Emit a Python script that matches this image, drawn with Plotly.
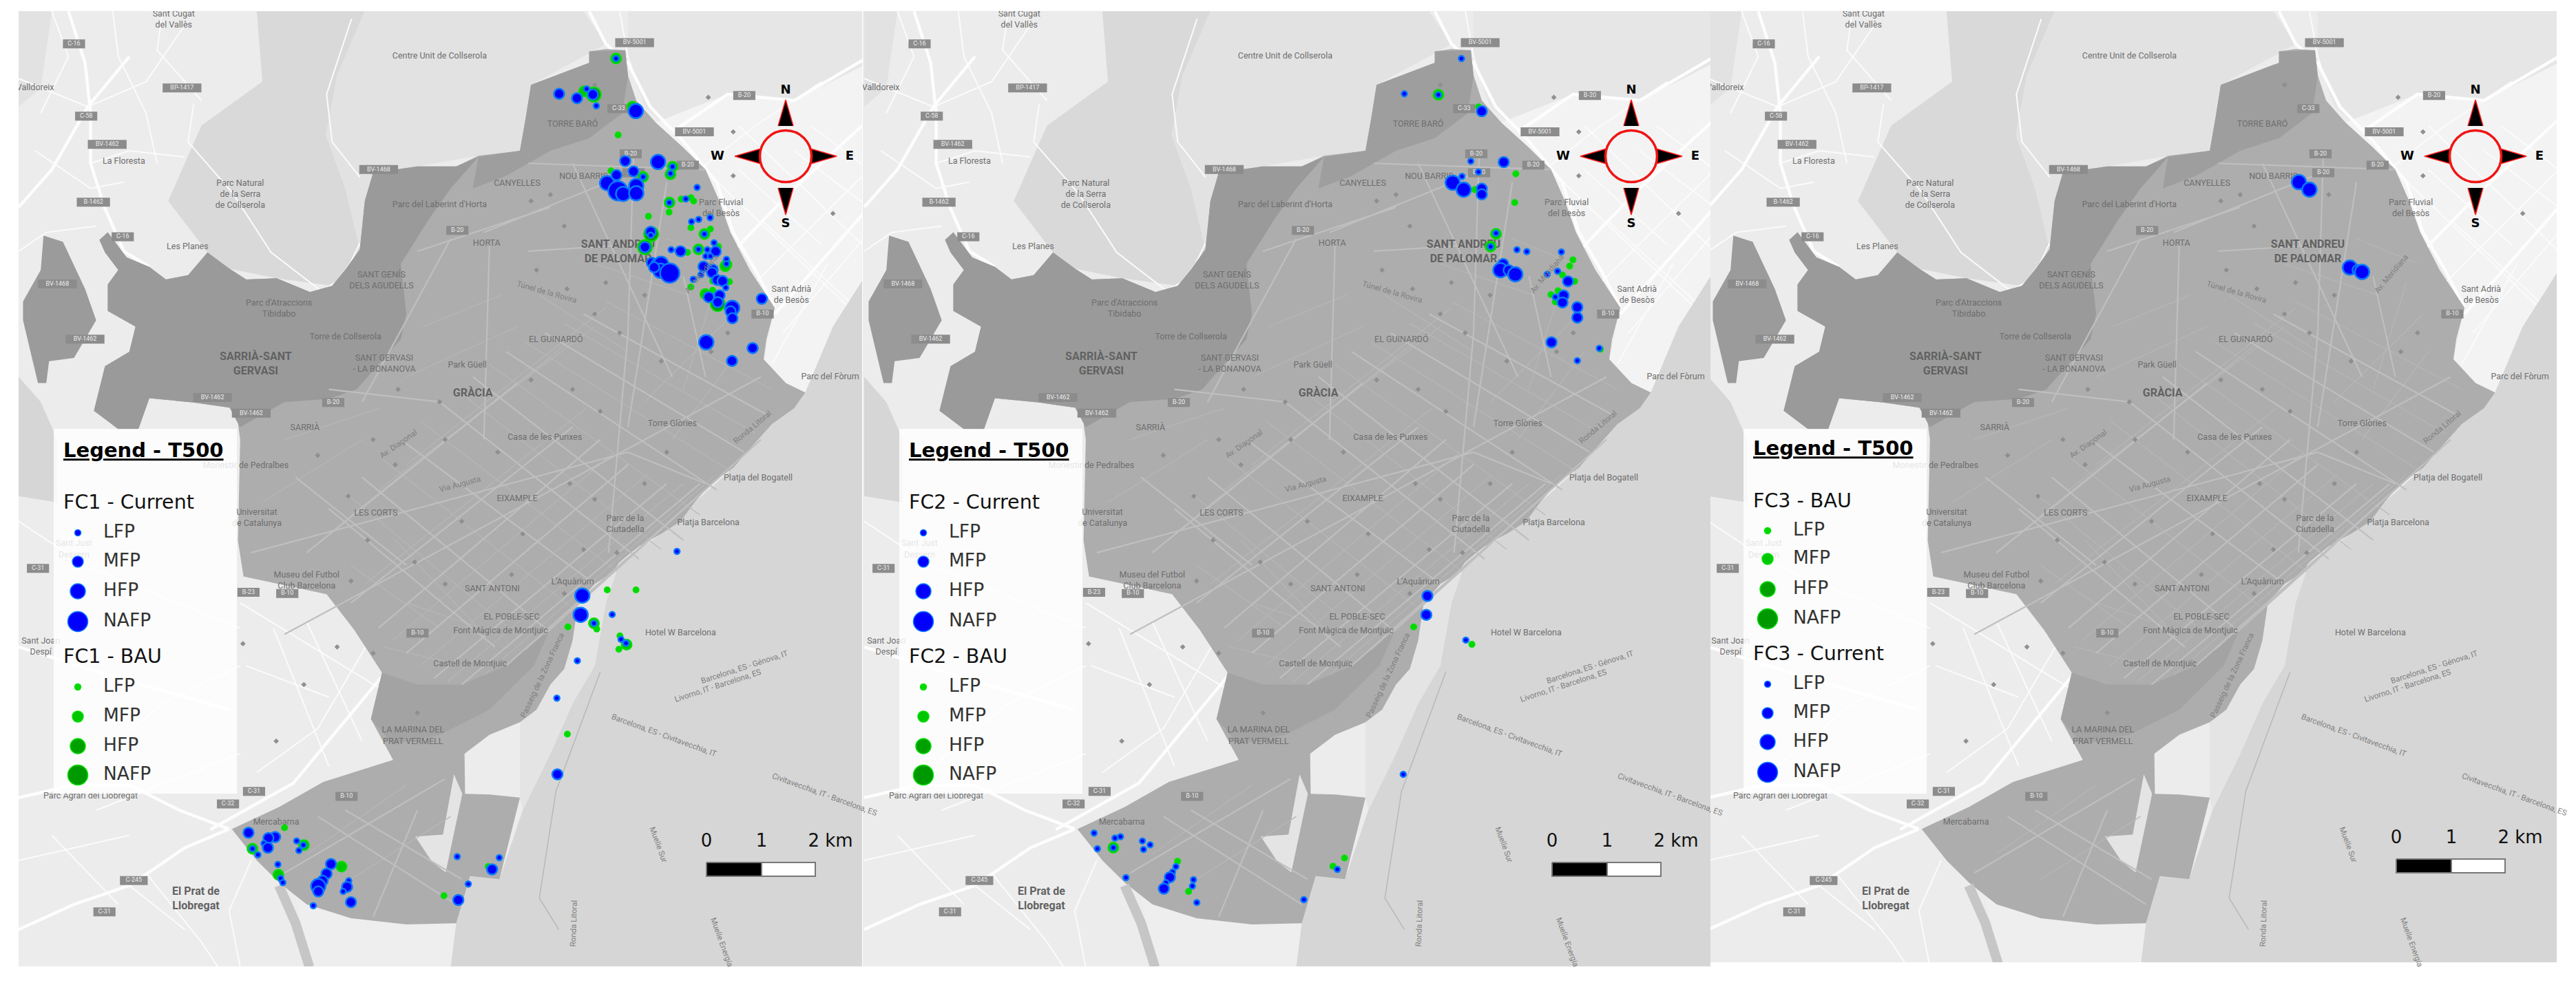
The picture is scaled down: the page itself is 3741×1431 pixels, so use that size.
import plotly.graph_objects as go

W = 3741
H = 1431
# the page keeps an 8 px body margin, so the figure sits 8 px in from the corner
PAGE = 8
FIG_W = W - 2 * PAGE
FIG_H = H - 2 * PAGE

# base map traced in map units, same for all three panels
city = [(1030,82),(1060,78),(1095,80),(1100,120),(1115,160),(1150,195),(1200,235),(1240,270),(1265,320),(1285,370),(1320,430),(1365,490),(1350,540),(1345,572),(1385,610),(1420,625),(1400,650),(1360,675),(1325,710),(1290,745),(1250,770),(1220,800),(1195,830),(1160,850),(1120,870),(1085,895),(1072,912),(1040,930),(1010,960),(1000,1020),(985,1065),(960,1090),(935,1130),(905,1150),(850,1170),(805,1200),(806,1264),(850,1265),(905,1270),(868,1400),(815,1395),(790,1470),(700,1472),(600,1462),(520,1440),(470,1405),(430,1370),(385,1320),(470,1285),(550,1245),(676,1210),(636,1145),(656,1071),(606,1003),(556,946),(406,918),(396,861),(400,700),(396,674),(381,649),(316,641),(236,634),(216,684),(181,684),(136,654),(156,583),(200,560),(211,520),(161,495),(161,453),(180,430),(156,402),(146,382),(161,370),(195,410),(236,425),(266,445),(306,438),(341,402),(381,428),(411,445),(466,443),(526,465),(566,455),(591,428),(616,397),(625,320),(640,275),(720,265),(790,265),(830,248),(905,240),(915,190),(925,135),(1030,100)]
finger = [(45,375),(40,430),(8,480),(8,510),(35,610),(50,610),(55,575),(100,570),(140,510),(120,460),(80,385)]
hills_tibidabo = [(146,382),(161,370),(195,410),(236,425),(266,445),(306,438),(341,402),(381,428),(411,445),(466,443),(526,465),(566,455),(591,428),(616,397),(625,320),(640,275),(720,265),(790,265),(830,250),(780,300),(740,350),(690,420),(700,500),(690,540),(610,620),(560,635),(480,640),(400,680),(381,649),(316,641),(236,634),(216,684),(181,684),(136,654),(156,583),(200,560),(211,520),(161,495),(161,453),(180,430),(156,402)]
hills_baro = [(830,250),(905,240),(915,190),(925,135),(1030,100),(1030,82),(1095,80),(1100,120),(1090,180),(1030,220),(960,240),(880,280),(820,300)]
hills_montjuic = [(656,1071),(636,1145),(676,1185),(760,1170),(850,1130),(930,1060),(960,1000),(880,1060),(800,1090),(720,1090)]
collserola_west = [(330,200),(440,130),(430,18),(625,18),(575,120),(555,215),(590,300),(616,397),(566,455),(466,443),(381,428),(341,402),(270,320)]
collserola_east = [(625,18),(1020,18),(1060,70),(1030,85),(925,135),(905,240),(830,248),(720,265),(640,275),(616,397),(590,300),(555,215),(575,120)]
sant_cugat_hill = [(0,18),(60,18),(40,140),(0,170)]
west_hill = [(0,600),(40,640),(70,700),(70,800),(0,790)]
sea = [(1535,430),(1470,520),(1420,625),(1360,675),(1290,745),(1220,800),(1160,850),(1085,895),(1060,960),(1040,1060),(1000,1120),(960,1200),(910,1290),(868,1400),(815,1395),(790,1470),(780,1540),(1535,1540)]
port = [(1010,960),(1040,930),(1085,895),(1060,960),(1040,1060),(1000,1120),(960,1200),(910,1290),(905,1270),(905,1150),(935,1130),(960,1090),(985,1065),(1000,1020)]
dock_notch = [(786,1233),(801,1264),(771,1389),(746,1372),(716,1332),(766,1329)]
besos_north = [(1100,18),(1535,18),(1535,100),(1400,160),(1280,150),(1180,210),(1130,170),(1100,100)]
besos_land = [(1150,195),(1280,150),(1400,160),(1535,100),(1535,430),(1470,520),(1420,625),(1385,610),(1345,572),(1365,490),(1285,370),(1240,270)]
prat_south = [(790,1470),(780,1540),(530,1540),(500,1430),(600,1462),(700,1472)]

white_roads = [
    [(90,18),(120,100),(130,180),(130,260),(155,330),(190,400),(236,425)],
    [(200,90),(125,170),(60,270),(0,330)],
    [(1030,18),(1060,70),(1100,100),(1140,170),(1200,225),(1260,290),(1290,370),(1330,430),(1365,490)],
    [(1180,210),(1280,150),(1400,160),(1535,90)],
    [(1290,400),(1400,300),(1535,190)],
    [(1365,500),(1535,330)],
    [(346,1321),(496,1247),(656,1077)],
    [(380,1320),(290,1290),(200,1250),(100,1250),(0,1270)],
    [(380,1320),(300,1350),(200,1410),(100,1440),(0,1480)],
    [(0,1030),(180,1080),(380,1130)],
]
thin_roads = [
    [(260,18),(250,80),(330,160)],
    [(0,125),(70,150),(125,170),(230,130),(300,40)],
    [(130,260),(200,240),(300,250)],
    [(601,30),(556,150),(566,226),(616,282)],
    [(316,166),(306,226),(386,307),(456,402),(546,463),(586,443),(616,387)],
    [(60,18),(90,90),(40,180)],
    [(170,18),(180,90),(230,180),(250,260)],
    [(30,240),(130,300),(190,290)],
    [(0,400),(50,370),(140,360)],
    [(1085,18),(1100,90),(1115,130)],
    [(1200,290),(1330,200),(1450,130)],
    [(1330,450),(1535,270)],
    [(1250,280),(1535,520)],
    [(1300,200),(1535,400)],
    [(1360,580),(1460,420)],
    [(1340,350),(1500,480)],
    [(1400,240),(1535,330)],
    [(1430,200),(1535,270)],
    [(1300,270),(1450,390)],
    [(1380,530),(1535,370)],
    [(430,1230),(540,1160),(640,1010)],
    [(0,830),(120,900),(400,1000)],
    [(70,1260),(260,1120),(400,1060)],
    [(140,1290),(400,1200)],
    [(410,1060),(560,1110)],
    [(400,960),(660,1100)],
    [(460,1000),(560,1220)],
    [(520,990),(620,1180)],
    [(230,1390),(330,1500),(360,1540)],
    [(420,1370),(380,1450),(400,1540)],
    [(200,1410),(300,1480)],
    [(60,1330),(180,1440)],
    [(0,1370),(200,1330)],
]
city_streets = [
    [(600,960),(1000,680)],[(650,1000),(1050,700)],[(700,1040),(1100,740)],[(750,1080),(1170,770)],
    [(800,1090),(1230,770)],[(880,1060),(1290,740)],[(950,1010),(1340,700)],[(520,880),(900,610)],
    [(760,640),(1120,890)],[(820,600),(1200,860)],[(880,560),(1260,780)],[(950,530),(1310,720)],
    [(1020,500),(1350,660)],[(690,700),(1040,930)],[(620,760),(950,1000)],[(560,810),(860,1030)],
    [(1065,880),(1100,530),(1110,250)],[(1100,680),(1170,290)],[(840,370),(1120,270)],
    [(780,380),(620,640)],[(850,390),(840,700)],[(920,260),(1240,270)],[(1240,600),(1200,440)],
    [(720,400),(960,330)],[(420,880),(1100,720),(1240,770)],[(480,1010),(1340,600)],
    [(500,760),(700,900)],[(560,620),(760,640)],[(920,400),(1100,390)],[(1000,260),(1180,600)],
    [(480,1390),(770,1240)],[(540,1300),(790,1440)],[(640,1460),(720,1290)],[(590,1290),(800,1400)],
]
thin_streets = [
    [(625,930),(1025,650)],[(675,1020),(1075,720)],[(725,1060),(1135,755)],[(775,1085),(1200,770)],
    [(840,1075),(1260,755)],[(915,1035),(1315,720)],[(560,850),(960,570)],[(600,820),(1000,540)],
    [(650,780),(1040,520)],[(700,740),(1060,490)],
    [(790,620),(1160,875)],[(850,580),(1230,820)],[(915,545),(1285,750)],[(985,515),(1330,690)],
    [(725,670),(1080,910)],[(655,730),(995,965)],[(590,785),(905,1015)],[(1060,480),(1360,620)],
    [(760,1000),(600,900)],[(830,1000),(680,860)],[(1180,700),(1300,560)],[(1260,450),(1200,620)],
    [(1130,640),(1290,500)],[(1170,380),(1280,420)],[(1040,420),(1210,470)],[(940,470),(1100,560)],
    [(730,520),(870,470)],[(700,600),(900,520)],[(480,700),(650,650)],[(440,800),(620,700)],
    [(520,1360),(700,1250)],[(600,1400),(780,1300)],[(660,1030),(800,1060)],[(700,960),(870,1010)],
]
river = [(470,1410),(500,1470),(525,1540)]
breakwater = [(1050,1070),(970,1260),(940,1430),(975,1480)]
poi = [(925,320),(960,310),(985,360),(1120,310),(1040,135),(1245,155),(1290,210),(1290,280),(1470,340),(935,430),(990,460),(1060,450),(1130,470),(1040,500),(1085,530),(1160,575),(1250,560),(1280,530),(1050,655),(1000,620),(925,605),(760,640),(685,620),(640,700),(540,725),(595,790),(680,740),(770,700),(865,720),(995,770),(1040,795),(1130,770),(1170,720),(1080,880),(1020,875),(910,850),(800,830),(715,895),(630,860),(600,925),(770,930),(890,915),(985,945),(575,1030),(640,1040),(720,1135),(515,1090),(465,1180),(405,1025)]

big_labels = [
    ("SANT ANDREU<br>DE PALOMAR",1082,402),("SARRIÀ-SANT<br>GERVASI",428,580),("GRÀCIA",820,627),
    ("El Prat de<br>Llobregat",320,1432),
]
small_labels = [
    ("Sant Cugat<br>del Vallès",280,32),("Centre Unit de Collserola",760,90),("Valldoreix",30,140),
    ("La Floresta",190,257),("Les Planes",305,393),("Parc Natural<br>de la Serra<br>de Collserola",400,310),
    ("TORRE BARÓ",1000,198),("NOU BARRIS",1020,282),("CANYELLES",900,293),("Parc del Laberint d'Horta",760,327),
    ("HORTA",845,388),("SANT GENÍS<br>DELS AGUDELLS",655,447),("Parc d'Atraccions<br>Tibidabo",470,492),
    ("Torre de Collserola",590,537),("SANT GERVASI<br>- LA BONANOVA",660,580),("Park Güell",810,582),
    ("EL GUINARDÓ",970,541),("SARRIÀ",517,682),("Torre Glòries",1180,675),("Casa de les Punxes",950,697),
    ("EIXAMPLE",900,795),("LES CORTS",645,818),("Parc de la<br>Ciutadella",1095,835),("Platja Barcelona",1245,833),
    ("Platja del Bogatell",1335,762),("Sant Adrià<br>de Besòs",1395,470),("Parc del Fòrum",1465,600),
    ("Parc Fluvial<br>del Besòs",1268,332),("SANT ANTONI",855,938),("L'Aquàrium",1000,927),
    ("EL POBLE-SEC",890,983),("Font Màgica de Montjuïc",870,1005),("Castell de Montjuïc",815,1057),
    ("LA MARINA DEL<br>PRAT VERMELL",712,1172),("Museu del Futbol<br>Club Barcelona",520,925),
    ("Universitat<br>de Catalunya",430,825),("Monestir de Pedralbes",410,742),("Hotel W Barcelona",1195,1008),
    ("Mercabarna",465,1310),("Sant Joan<br>Despí",40,1030),("Parc Agrari del Llobregat",130,1268),
    ("Sant Just<br>Desvern",100,875),
]
rotated_labels = [
    ("Barcelona, ES - Génova, IT",1310,1062,-18),("Livorno, IT - Barcelona, ES",1262,1092,-18),
    ("Barcelona, ES - Civitavecchia, IT",1165,1170,20),("Civitavecchia, IT - Barcelona, ES",1455,1265,20),
    ("Ronda Litoral",1002,1470,-88),("Muelle Sur",1155,1345,70),("Muelle Energía",1270,1500,70),
    ("Túnel de la Rovira",953,465,16),("Av. Diagonal",685,707,-35),("Via Augusta",797,770,-15),
    ("Av. Meridiana",1232,436,-50),("Ronda Litoral",1325,680,-40),("Passeig de la Zona Franca",945,1075,-65),
]
shields = [
    ("C-16",100,70),("BP-1417",295,140),("C-58",122,185),("BV-1462",160,230),("B-1462",135,322),
    ("C-16",188,377),("BV-1468",650,270),("BV-1468",70,452),("BV-1462",120,540),("C-33",1083,173),
    ("BV-5001",1112,68),("B-20",1105,245),("B-20",1110,275),("BV-5001",1220,210),("B-20",1310,152),
    ("B-20",1208,263),("B-10",1343,500),("B-20",792,367),("B-20",568,641),("BV-1462",350,633),
    ("BV-1462",420,658),("B-10",720,1008),("B-23",415,943),("B-10",485,945),("C-31",425,1260),
    ("C-32",378,1280),("B-10",592,1268),("C-31",35,905),("C-245",208,1402),("C-31",155,1452),
]

# values: x, y, class
p1_current_north = [(344,135,"L"),(96,289,"M"),(174,308,"M"),(216,268,"L"),(243,292,"M"),(258,341,"L"),(430,364,"H"),(384,582,"M"),(527,586,"H"),(590,607,"L"),(581,636,"L"),(420,627,"M"),(346,643,"M"),(462,651,"L"),(305,678,"H"),(352,712,"N"),(375,725,"H"),(432,690,"H"),(432,722,"H"),(697,697,"L"),(576,763,"L"),(648,747,"L"),(704,836,"L"),(754,829,"L"),(673,846,"L"),(729,900,"L"),(495,890,"M"),(495,905,"L"),(470,957,"M"),(584,968,"L"),(625,975,"M"),(703,967,"L"),(771,938,"L"),(742,968,"L"),(778,976,"M"),(735,997,"L"),(755,997,"L"),(825,1010,"L"),(825,1030,"L"),(500,1025,"M"),(520,1030,"M"),(540,1030,"H"),(537,1060,"H"),(510,1045,"M"),(578,1070,"N"),(725,1042,"M"),(765,1055,"M"),(762,1068,"M"),(714,1077,"L"),(680,1097,"L"),(785,1100,"M"),(808,1105,"M"),(822,1133,"L"),(748,1175,"M"),(795,1167,"M"),(787,1197,"M"),(850,1222,"H"),(843,1237,"M"),(851,1267,"M"),(979,1182,"M"),(737,1372,"H"),(939,1397,"M"),(849,1453,"M")]
p1_bau_north = [(344,135,"M"),(205,278,"M"),(247,292,"H"),(415,345,"M"),(353,468,"L"),(322,625,"L"),(590,607,"M"),(581,640,"M"),(462,651,"M"),(577,763,"M"),(628,748,"L"),(670,742,"L"),(682,756,"L"),(575,805,"L"),(485,823,"L"),(670,872,"L"),(755,878,"L"),(729,900,"M"),(497,900,"H"),(470,957,"H"),(655,980,"L"),(703,967,"M"),(790,955,"L"),(825,1033,"M"),(820,1040,"M"),(765,1105,"L"),(838,1108,"L"),(670,1131,"L"),(733,1162,"M"),(765,1145,"L"),(787,1205,"H")]
p1_current_south = [(1223,350,"L"),(1052,474,"H"),(1049,528,"H"),(1106,527,"L"),(1073,552,"L"),(1122,597,"L"),(1131,608,"L"),(1043,657,"L"),(1006,762,"L"),(1007,976,"M"),(449,1140,"M"),(497,1152,"M"),(485,1155,"M"),(477,1170,"L"),(484,1182,"M"),(456,1185,"L"),(466,1202,"L"),(536,1163,"L"),(548,1175,"L"),(540,1190,"L"),(502,1229,"L"),(507,1268,"L"),(511,1280,"L"),(598,1228,"M"),(590,1255,"M"),(583,1275,"M"),(575,1290,"H"),(575,1305,"M"),(630,1275,"L"),(627,1292,"M"),(620,1305,"L"),(634,1335,"M"),(566,1345,"L"),(826,1207,"L"),(902,1210,"L"),(889,1243,"M"),(846,1284,"L"),(828,1329,"M")]
p1_bau_south = [(1097,458,"L"),(1149,458,"L"),(1026,562,"L"),(1073,552,"M"),(1078,568,"L"),(1120,587,"L"),(1132,612,"M"),(1118,625,"L"),(1025,863,"L"),(514,1126,"L"),(456,1185,"M"),(549,1175,"M"),(617,1235,"M"),(503,1258,"M"),(802,1317,"L"),(882,1235,"L")]
p2_current_north = [(1094,185,"L"),(990,297,"L"),(1052,300,"L"),(1131,352,"M"),(1111,510,"L"),(1171,513,"M"),(1125,544,"L"),(1095,558,"L"),(1078,578,"H"),(1098,600,"H"),(1131,597,"M"),(1131,615,"M"),(1157,738,"L"),(1147,780,"L"),(1195,790,"L"),(1213,796,"L"),(1276,797,"L"),(1170,835,"M"),(1165,855,"H"),(1180,855,"M"),(1192,868,"H"),(1250,868,"L"),(1269,858,"L"),(1288,890,"M"),(1265,940,"L"),(1280,935,"M"),(1278,957,"M"),(1305,972,"M"),(1305,1005,"M"),(1258,1083,"M"),(1345,1102,"L"),(1305,1141,"L")]
p2_bau_north = [(1052,300,"M"),(1125,338,"L"),(1193,550,"L"),(1118,600,"L"),(1191,641,"L"),(1157,740,"M"),(1147,780,"M"),(1297,822,"L"),(1291,842,"L"),(1278,870,"L"),(1300,890,"L"),(1257,932,"L"),(1270,920,"L"),(1265,955,"L"),(1347,1105,"L")]
p2_current_south = [(1032,475,"M"),(1030,528,"M"),(1102,599,"L"),(988,976,"L"),(425,1141,"L"),(463,1155,"L"),(473,1151,"L"),(431,1185,"L"),(460,1182,"L"),(513,1163,"L"),(527,1174,"L"),(515,1187,"L"),(483,1266,"L"),(574,1235,"L"),(568,1250,"L"),(563,1265,"M"),(556,1280,"L"),(552,1297,"M"),(606,1272,"L"),(604,1290,"L"),(612,1336,"L"),(868,1243,"L"),(807,1328,"L")]
p2_bau_south = [(1007,562,"L"),(1113,611,"L"),(460,1182,"M"),(577,1220,"L"),(597,1305,"L"),(860,1234,"L"),(881,1211,"L")]
p3_current = [(1066,290,"H"),(1085,302,"H"),(1158,426,"H"),(1172,430,"M"),(1180,433,"H")]

classes = ["LFP", "MFP", "HFP", "NAFP"]
class_size = {"L": 8, "M": 15, "H": 21, "N": 28}
legend_size = [9, 16, 22, 29]

BLUE = "#0000ff"
BLUE_EDGE = "#0a78ff"
GREEN = {"L": "#00d800", "M": "#00c800", "H": "#00a000", "N": "#009800"}
GREEN_EDGE = "#00e000"
FONT = "DejaVu Sans"
MAP_FONT = "Roboto"

# axis range of each panel in px, from the map's own left edge
panels = [
    dict(x=[27, 1252], r=[0, 1225], bottom=1404, legend_y=[657, 732, 774, 816, 859, 903, 956, 998, 1041, 1084, 1126],
         head=["FC1 - Current", "FC1 - BAU"], order=["cur", "bau"], bar_y=[1253, 1273], bar_label_y=1223),
    dict(x=[1253, 2484], r=[-2, 1229], bottom=1404, legend_y=[657, 732, 774, 816, 859, 903, 956, 998, 1041, 1084, 1126],
         head=["FC2 - Current", "FC2 - BAU"], order=["cur", "bau"], bar_y=[1253, 1273], bar_label_y=1223),
    dict(x=[2484, 3713], r=[3, 1232], bottom=1398, legend_y=[654, 730, 771, 812, 856, 899, 952, 994, 1036, 1078, 1122],
         head=["FC3 - BAU", "FC3 - Current"], order=["bau", "cur"], bar_y=[1248, 1268], bar_label_y=1218),
]


def mx(v):
    return v / 1.243


def my(v):
    return v / 1.096


def pts(coords):
    return [mx(c[0]) for c in coords], [my(c[1]) for c in coords]


def lines(paths):
    xs, ys = [], []
    for p in paths:
        a, b = pts(p)
        xs += a + [None]
        ys += b + [None]
    return xs, ys


def north(rows):
    return [(753 + r[0] / 3, 40 + r[1] / 3, r[2]) for r in rows]


def south(rows):
    return [(r[0] / 1.244 - 27, 620 + r[1] / 1.933, r[2]) for r in rows]


def north2(rows):
    return [(r[0] / 1.254 - 5, r[1] / 2.178, r[2]) for r in rows]


def south2(rows):
    return [(r[0] / 1.254 - 5, 620 + r[1] / 1.933, r[2]) for r in rows]


def third(rows):
    return [(r[0] / 1.243, r[1] / 1.096, r[2]) for r in rows]


current_points = [
    north(p1_current_north) + south(p1_current_south),
    north2(p2_current_north) + south2(p2_current_south),
    third(p3_current),
]
bau_points = [
    north(p1_bau_north) + south(p1_bau_south),
    north2(p2_bau_north) + south2(p2_bau_south),
    [],
]

fig = go.Figure()


def poly(coords, color, xa, ya):
    x, y = pts(coords)
    fig.add_trace(go.Scatter(x=x, y=y, mode="lines", fill="toself", fillcolor=color,
                             line=dict(width=0), hoverinfo="skip", xaxis=xa, yaxis=ya))


def road(paths, color, width, xa, ya):
    x, y = lines(paths)
    fig.add_trace(go.Scatter(x=x, y=y, mode="lines", line=dict(color=color, width=width),
                             hoverinfo="skip", xaxis=xa, yaxis=ya))


def add_text(labels, size, color, xa, ya, bold=False, family=MAP_FONT):
    fig.add_trace(go.Scatter(
        x=[mx(l[1]) for l in labels], y=[my(l[2]) for l in labels], text=[l[0] for l in labels],
        mode="text", textposition="middle center",
        textfont=dict(family=family, size=size, color=color, weight="bold" if bold else "normal"),
        hoverinfo="skip", xaxis=xa, yaxis=ya))


for i, p in enumerate(panels):
    n = "" if i == 0 else str(i + 1)
    xa, ya = "x" + n, "y" + n

    # base map
    poly(besos_north, "#e6e6e6", xa, ya)
    poly(besos_land, "#f3f3f3", xa, ya)
    poly(collserola_west, "#d9d9d9", xa, ya)
    poly(collserola_east, "#e2e2e2", xa, ya)
    poly(sant_cugat_hill, "#e2e2e2", xa, ya)
    poly(west_hill, "#d6d6d6", xa, ya)
    poly(prat_south, "#eeeeee", xa, ya)
    road(thin_roads, "#fbfbfb", 2, xa, ya)
    road(white_roads, "#fdfdfd", 4.5, xa, ya)
    poly(sea, "#d6d6d6", xa, ya)
    poly(port, "#e4e4e4", xa, ya)
    poly(finger, "#9b9b9b", xa, ya)
    poly(city, "#adadad", xa, ya)
    poly(hills_tibidabo, "#9a9a9a", xa, ya)
    poly(hills_baro, "#9e9e9e", xa, ya)
    poly(hills_montjuic, "#a3a3a3", xa, ya)
    poly(dock_notch, "#e4e4e4", xa, ya)
    road(thin_streets, "#b7b7b7", 1.2, xa, ya)
    road(city_streets, "#bfbfbf", 2.2, xa, ya)
    road([river], "#c6c6c6", 14, xa, ya)
    road([breakwater], "#b8b8b8", 1.5, xa, ya)
    px, py = pts(poi)
    fig.add_trace(go.Scatter(x=px, y=py, mode="markers", hoverinfo="skip", xaxis=xa, yaxis=ya,
                             marker=dict(symbol="diamond", size=6, color="#8f8f8f", opacity=1)))

    # road shields
    bx, by = [], []
    for s in shields:
        half = 5 * len(s[0])
        bx += [mx(s[1] - half), mx(s[1] + half), None]
        by += [my(s[2]), my(s[2]), None]
    fig.add_trace(go.Scatter(x=bx, y=by, mode="lines", line=dict(color="#8c8c8c", width=13),
                             hoverinfo="skip", xaxis=xa, yaxis=ya))
    add_text(shields, 9, "#ededed", xa, ya)
    add_text(small_labels, 12.5, "#6e6e6e", xa, ya)
    add_text(big_labels, 16, "#626262", xa, ya, bold=True)

    # compass
    cx, cy = 1114, 227
    tri = [
        ([cx - 11, cx, cx + 11], [183, 145, 183]),
        ([cx - 11, cx, cx + 11], [273, 312, 273]),
        ([cx - 36, cx - 74, cx - 36], [cy - 11, cy, cy + 11]),
        ([cx + 36, cx + 74, cx + 36], [cy - 11, cy, cy + 11]),
    ]
    for tx, ty in tri:
        fig.add_trace(go.Scatter(x=tx, y=ty, mode="lines", fill="toself", fillcolor="#000000",
                                 line=dict(color="#ff1a1a", width=1.5), hoverinfo="skip", xaxis=xa, yaxis=ya))
    fig.add_trace(go.Scatter(x=[cx], y=[cy], mode="markers", hoverinfo="skip", xaxis=xa, yaxis=ya,
                             marker=dict(size=75, color="rgba(255,255,255,0)", line=dict(color="#f01414", width=3.5))))
    fig.add_trace(go.Scatter(x=[cx, cx, cx - 99, cx + 93], y=[131, 325, cy, cy], text=["N", "S", "W", "E"],
                             mode="text", textfont=dict(family=FONT, size=18, color="#000000", weight="bold"),
                             hoverinfo="skip", xaxis=xa, yaxis=ya))

    # feature points, BAU under Current
    cur = current_points[i]
    bau = bau_points[i]
    if bau:
        fig.add_trace(go.Scatter(
            x=[b[0] for b in bau], y=[b[1] for b in bau], mode="markers", name=p["head"][p["order"].index("bau")],
            marker=dict(size=[class_size[b[2]] for b in bau], color=[GREEN[b[2]] for b in bau], opacity=1,
                        line=dict(color=GREEN_EDGE, width=2)),
            xaxis=xa, yaxis=ya))
    fig.add_trace(go.Scatter(
        x=[c[0] for c in cur], y=[c[1] for c in cur], mode="markers", name=p["head"][p["order"].index("cur")],
        marker=dict(size=[class_size[c[2]] for c in cur], color=BLUE, opacity=1, line=dict(color=BLUE_EDGE, width=2.5)),
        xaxis=xa, yaxis=ya))

    # legend box
    fig.add_trace(go.Scatter(x=[51, 317, 317, 51, 51], y=[623, 623, 1153, 1153, 623], mode="lines", fill="toself",
                             fillcolor="rgba(255,255,255,0.82)", line=dict(width=0), hoverinfo="skip",
                             xaxis=xa, yaxis=ya))
    ly = p["legend_y"]
    fig.add_trace(go.Scatter(x=[65], y=[ly[0]], text=["<u>Legend - T500</u>"], mode="text", textposition="middle right",
                             textfont=dict(family=FONT, size=29, color="#000000", weight="bold"),
                             hoverinfo="skip", xaxis=xa, yaxis=ya))
    fig.add_trace(go.Scatter(x=[65, 65], y=[ly[1], ly[6]], text=p["head"], mode="text", textposition="middle right",
                             textfont=dict(family=FONT, size=28.5, color="#111111"),
                             hoverinfo="skip", xaxis=xa, yaxis=ya))
    for k, kind in enumerate(p["order"]):
        rows = ly[2:6] if k == 0 else ly[7:11]
        if kind == "cur":
            col = BLUE
            edge = BLUE_EDGE
        else:
            col = [GREEN["L"], GREEN["M"], GREEN["H"], GREEN["N"]]
            edge = GREEN_EDGE
        fig.add_trace(go.Scatter(x=[86] * 4, y=rows, mode="markers", hoverinfo="skip", xaxis=xa, yaxis=ya,
                                 marker=dict(size=legend_size, color=col, opacity=1, line=dict(color=edge, width=1.5))))
        fig.add_trace(go.Scatter(x=[123] * 4, y=rows, text=classes, mode="text", textposition="middle right",
                                 textfont=dict(family=FONT, size=26.5, color="#333333"),
                                 hoverinfo="skip", xaxis=xa, yaxis=ya))

    # scale bar
    y0, y1 = p["bar_y"]
    fig.add_trace(go.Scatter(x=[999, 1079, 1079, 999, 999], y=[y0, y0, y1, y1, y0], mode="lines", fill="toself",
                             fillcolor="#000000", line=dict(color="#777777", width=2), hoverinfo="skip",
                             xaxis=xa, yaxis=ya))
    fig.add_trace(go.Scatter(x=[1079, 1157, 1157, 1079, 1079], y=[y0, y0, y1, y1, y0], mode="lines", fill="toself",
                             fillcolor="#ffffff", line=dict(color="#777777", width=2), hoverinfo="skip",
                             xaxis=xa, yaxis=ya))
    fig.add_trace(go.Scatter(x=[999, 1079, 1179], y=[p["bar_label_y"]] * 3, text=["0", "1", "2 km"], mode="text",
                             textfont=dict(family=FONT, size=26, color="#111111"), hoverinfo="skip",
                             xaxis=xa, yaxis=ya))

    # axes, no ticks on a map
    axis = dict(visible=False, fixedrange=True)
    fig.layout["xaxis" + n] = dict(axis, domain=[(p["x"][0] - PAGE) / FIG_W, (p["x"][1] - PAGE) / FIG_W],
                                   range=p["r"], anchor=ya)
    fig.layout["yaxis" + n] = dict(axis, domain=[(FIG_H - (p["bottom"] - PAGE)) / FIG_H, (FIG_H - (16 - PAGE)) / FIG_H],
                                   range=[p["bottom"], 16], anchor=xa)

    for t in rotated_labels:
        fig.add_annotation(x=mx(t[1]), y=my(t[2]), text=t[0], textangle=t[3], showarrow=False, xref=xa, yref=ya,
                           font=dict(family=MAP_FONT, size=11.5, color="#808080"))

fig.update_layout(
    width=FIG_W, height=FIG_H, margin=dict(l=0, r=0, t=0, b=0), showlegend=False,
    paper_bgcolor="#ffffff", plot_bgcolor="#ececec",
)

fig.write_html("out.html")
